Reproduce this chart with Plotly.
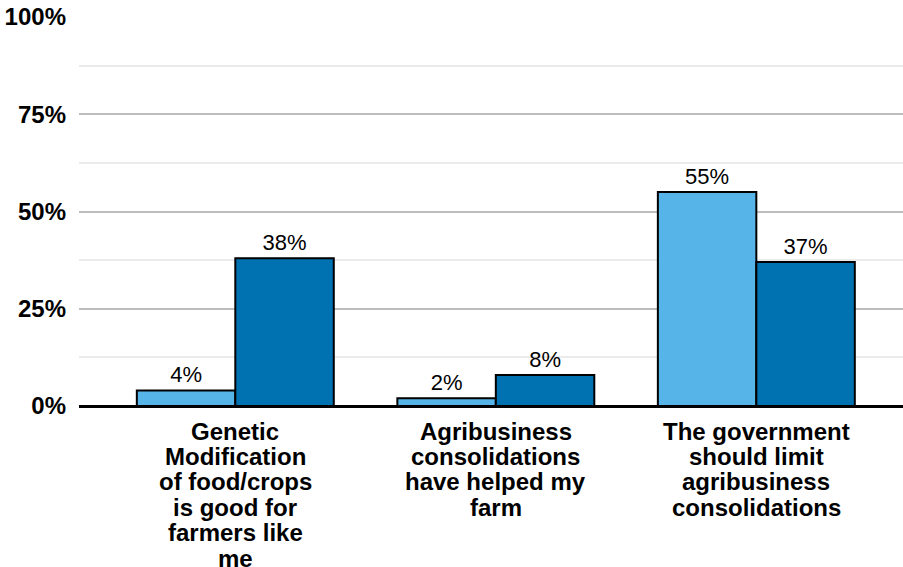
import plotly.graph_objects as go

# Survey statements (each entry is one line of the axis label)
categories = [
    "Genetic Modification of food/crops is good for farmers like me",
    "Agribusiness consolidations have helped my farm",
    "The government should limit agribusiness consolidations",
]
category_lines = [
    ["Genetic", "Modification", "of food/crops", "is good for", "farmers like", "me"],
    ["Agribusiness", "consolidations", "have helped my", "farm"],
    ["The government", "should limit", "agribusiness", "consolidations"],
]
series_a = [4, 2, 55]
series_b = [38, 8, 37]
tick_vals = [0, 25, 50, 75, 100]
tick_text = ["0%", "25%", "50%", "75%", "100%"]

FONT = "Arial, Liberation Sans, sans-serif"
LIGHT = "#56B4E9"
DARK = "#0072B2"

x_idx = list(range(len(categories)))

fig = go.Figure()
for vals, color in [(series_a, LIGHT), (series_b, DARK)]:
    fig.add_trace(go.Bar(
        x=x_idx,
        y=vals,
        marker=dict(color=color, line=dict(color="#000000", width=2)),
        text=[f"{v}%" for v in vals],
        textposition="outside",
        textfont=dict(family=FONT, size=22, color="#000000"),
        cliponaxis=False,
        showlegend=False,
    ))

# Multi-line category labels below the axis
annotations = []
for xi, lines in zip(x_idx, category_lines):
    for i, line in enumerate(lines):
        annotations.append(dict(
            x=xi, y=0, xref="x", yref="y",
            text=f"<b>{line}</b>",
            showarrow=False,
            xanchor="center", yanchor="middle",
            yshift=-(25 + i * 25.4),
            font=dict(family=FONT, size=24, color="#000000"),
        ))

fig.update_layout(
    width=903, height=567,
    margin=dict(l=79, r=0, t=17, b=161),
    paper_bgcolor="white",
    plot_bgcolor="white",
    barmode="group",
    bargap=0.244,
    bargroupgap=0,
    annotations=annotations,
    xaxis=dict(
        range=[-0.6, 2.563],
        showticklabels=False,
        showgrid=False,
        zeroline=False,
        showline=False,
        fixedrange=True,
    ),
    yaxis=dict(
        range=[0, 100],
        tickvals=tick_vals,
        ticktext=[f"<b>{t}</b>" for t in tick_text],
        tickfont=dict(family=FONT, size=24, color="#000000"),
        ticks="",
        ticklabelstandoff=12,
        showgrid=True,
        gridcolor="#bdbdbd",
        gridwidth=2,
        minor=dict(dtick=12.5, showgrid=True, gridcolor="#ebebeb", gridwidth=1.5),
        zeroline=True,
        zerolinecolor="#000000",
        zerolinewidth=2.5,
        showline=False,
        fixedrange=True,
    ),
)

fig.write_html("out.html")
